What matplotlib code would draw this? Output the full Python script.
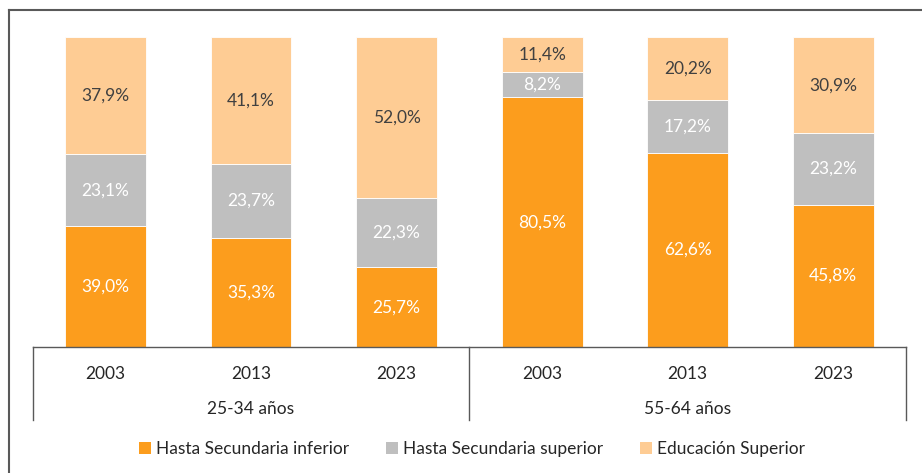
import matplotlib
matplotlib.use("Agg")
import matplotlib.pyplot as plt
from matplotlib.patches import Patch
from matplotlib.lines import Line2D

plt.rcParams['font.family'] = ['Lato', 'DejaVu Sans']

years = ["2003", "2013", "2023", "2003", "2013", "2023"]
groups = ["25-34 años", "55-64 años"]
series_names = ["Hasta Secundaria inferior", "Hasta Secundaria superior", "Educación Superior"]
inferior = [39.0, 35.3, 25.7, 80.5, 62.6, 45.8]
superior_sec = [23.1, 23.7, 22.3, 8.2, 17.2, 23.2]
educ_sup = [37.9, 41.1, 52.0, 11.4, 20.2, 30.9]

colors = ["#FC9D1D", "#BFBFBF", "#FECC94"]
label_colors = ["white", "white", "#404040"]

W, H = 922, 473
fig = plt.figure(figsize=(W / 100, H / 100), dpi=100)
ax = fig.add_axes([32.7 / W, (H - 347) / H, (906 - 32.7) / W, 310 / H])

x = list(range(len(years)))
bottoms = [0.0] * len(years)
fs = 12.5
for vals, col, lc in zip([inferior, superior_sec, educ_sup], colors, label_colors):
    ax.bar(x, vals, width=0.556, bottom=bottoms, color=col,
           edgecolor="#FFFFFF", linewidth=0.6)
    for xi, v, b in zip(x, vals, bottoms):
        ax.text(xi, b + v / 2, f"{v:.1f}%".replace(".", ","), ha="center", va="center",
                color=lc, fontsize=fs)
    bottoms = [b + v for b, v in zip(bottoms, vals)]

ax.set_xlim(-0.5, 5.5)
ax.set_ylim(0, 100)
ax.set_xticks([])
ax.set_yticks([])
for s in ["top", "right", "left"]:
    ax.spines[s].set_visible(False)
ax.spines["bottom"].set_color("#595959")
ax.spines["bottom"].set_linewidth(1.0)

tr = ax.get_xaxis_transform()
for xi, yl in zip(x, years):
    ax.text(xi, -0.087, yl, ha="center", va="center", fontsize=fs, color="#262626",
            transform=tr)
for gi, g in enumerate(groups):
    ax.text(gi * 3 + 1, -0.2, g, ha="center", va="center", fontsize=fs, color="#262626",
            transform=tr)
for xv in [-0.5, 2.5, 5.5]:
    ax.plot([xv, xv], [0, -0.237], color="#595959", lw=1.0, transform=tr, clip_on=False)

handles = [Patch(facecolor=c, edgecolor="none") for c in colors]
fig.legend(handles, series_names, loc="center", bbox_to_anchor=(472 / W, 1 - 449 / H),
           ncol=3, frameon=False, fontsize=fs, handlelength=0.7, handleheight=0.7,
           handletextpad=0.3, columnspacing=2.1, labelcolor="#262626")

# outer frame
fig.add_artist(Line2D([9 / W, 9 / W], [0, 1 - 10.5 / H], transform=fig.transFigure,
                      color="#595959", lw=1.5))
fig.add_artist(Line2D([9 / W, 1], [1 - 10.5 / H, 1 - 10.5 / H], transform=fig.transFigure,
                      color="#595959", lw=1.5))

fig.savefig("out.png", dpi=100)
